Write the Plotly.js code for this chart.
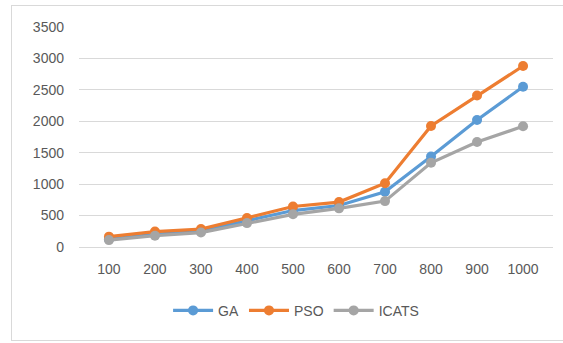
<!DOCTYPE html>
<html>
<head>
<meta charset="utf-8">
<script src="https://cdn.plot.ly/plotly-3.0.1.min.js"></script>
<style>
  html, body { margin: 0; padding: 0; background: #fff; }
  #wrap { position: relative; width: 563px; height: 343px; }
  #frame { position: absolute; left: 11px; top: 5px; width: 560px; height: 336px;
           border: 1px solid #d9d9d9; border-right: none; box-sizing: border-box; pointer-events: none; }
  #chart { position: absolute; left: 0; top: 0; width: 563px; height: 343px; }
</style>
</head>
<body>
<div id="wrap">
  <div id="chart"></div>
  <div id="frame"></div>
</div>
<script>
const categories = ["100", "200", "300", "400", "500", "600", "700", "800", "900", "1000"];
const gaValues = [125, 200, 255, 420, 580, 660, 880, 1440, 2020, 2550];
const psoValues = [165, 245, 285, 460, 645, 715, 1015, 1925, 2410, 2880];
const icatsValues = [110, 180, 230, 380, 520, 615, 730, 1340, 1670, 1920];
const seriesNames = ["GA", "PSO", "ICATS"];
const seriesColors = ["#5B9BD5", "#ED7D31", "#A5A5A5"];

const allValues = [gaValues, psoValues, icatsValues];
const traces = allValues.map((vals, i) => ({
  type: "scatter",
  mode: "lines+markers",
  x: categories,
  y: vals,
  name: seriesNames[i],
  line: { color: seriesColors[i], width: 3.2 },
  marker: { color: seriesColors[i], size: 10 }
}));

const tickFont = { family: "Liberation Sans, Arial, sans-serif", size: 14, color: "#595959" };

const layout = {
  width: 563,
  height: 343,
  margin: { l: 79, r: 10, t: 27, b: 96 },
  paper_bgcolor: "#ffffff",
  plot_bgcolor: "#ffffff",
  showlegend: true,
  legend: {
    orientation: "h",
    x: 0.458, xanchor: "center",
    y: -0.29, yanchor: "middle",
    font: tickFont,
    itemwidth: 40,
    tracegroupgap: 0
  },
  xaxis: {
    type: "category",
    showgrid: false,
    showline: false,
    zeroline: false,
    ticks: "",
    tickfont: tickFont,
    ticklabelstandoff: 12
  },
  yaxis: {
    range: [0, 3500],
    dtick: 500,
    tick0: 0,
    showgrid: true,
    gridcolor: "#d9d9d9",
    gridwidth: 1,
    zeroline: true,
    zerolinecolor: "#d9d9d9",
    zerolinewidth: 1,
    showline: false,
    ticks: "",
    tickfont: tickFont,
    ticklabelstandoff: 14
  }
};

Plotly.newPlot("chart", traces, layout, { displayModeBar: false, staticPlot: true });
</script>
</body>
</html>
